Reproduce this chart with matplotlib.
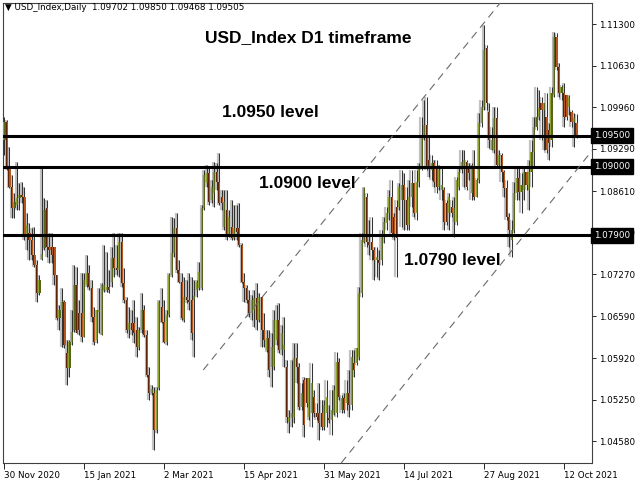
import numpy as np
import matplotlib
matplotlib.use('Agg')
import matplotlib.pyplot as plt

# daily OHLC (30 Nov 2020 .. mid Oct 2021)
opens = [
    1.0943, 1.0973, 1.0898, 1.0868, 1.0834, 1.0838, 1.0850, 1.0855, 1.0851, 1.0787,
    1.0793, 1.0782, 1.0758, 1.0742, 1.0697, 1.0751, 1.0769, 1.0834, 1.0771, 1.0771,
    1.0771, 1.0726, 1.0656, 1.0669, 1.0682, 1.0600, 1.0576, 1.0618, 1.0637, 1.0709,
    1.0665, 1.0665, 1.0626, 1.0709, 1.0729, 1.0705, 1.0658, 1.0621, 1.0666, 1.0629,
    1.0701, 1.0701, 1.0706, 1.0714, 1.0753, 1.0737, 1.0734, 1.0779, 1.0713, 1.0685,
    1.0637, 1.0648, 1.0648, 1.0637, 1.0610, 1.0637, 1.0669, 1.0629, 1.0565, 1.0536,
    1.0536, 1.0476, 1.0544, 1.0674, 1.0650, 1.0618, 1.0661, 1.0726, 1.0761, 1.0801,
    1.0734, 1.0714, 1.0653, 1.0690, 1.0685, 1.0685, 1.0685, 1.0701, 1.0705, 1.0705,
    1.0834, 1.0874, 1.0890, 1.0847, 1.0858, 1.0892, 1.0876, 1.0851, 1.0803, 1.0830,
    1.0790, 1.0803, 1.0785, 1.0801, 1.0801, 1.0774, 1.0714, 1.0705, 1.0685, 1.0665,
    1.0669, 1.0689, 1.0653, 1.0690, 1.0637, 1.0605, 1.0624, 1.0577, 1.0577, 1.0621,
    1.0653, 1.0605, 1.0605, 1.0577, 1.0489, 1.0495, 1.0497, 1.0592, 1.0577, 1.0513,
    1.0556, 1.0560, 1.0497, 1.0503, 1.0529, 1.0503, 1.0503, 1.0503, 1.0481, 1.0503,
    1.0495, 1.0492, 1.0503, 1.0503, 1.0585, 1.0508, 1.0527, 1.0519, 1.0536, 1.0516,
    1.0584, 1.0584, 1.0594, 1.0697, 1.0779, 1.0851, 1.0779, 1.0779, 1.0766, 1.0750,
    1.0750, 1.0750, 1.0790, 1.0809, 1.0826, 1.0851, 1.0819, 1.0835, 1.0835, 1.0847,
    1.0871, 1.0847, 1.0806, 1.0851, 1.0874, 1.0826, 1.0876, 1.0900, 1.0948, 1.0968,
    1.0911, 1.0895, 1.0906, 1.0900, 1.0868, 1.0863, 1.0863, 1.0842, 1.0826, 1.0835,
    1.0811, 1.0811, 1.0868, 1.0895, 1.0900, 1.0908, 1.0900, 1.0858, 1.0900, 1.0851,
    1.0879, 1.0971, 1.0997, 1.1092, 1.0989, 1.0927, 1.0927, 1.0979, 1.0903, 1.0919,
    1.0892, 1.0866, 1.0819, 1.0782, 1.0798, 1.0858, 1.0882, 1.0860, 1.0863, 1.0892,
    1.0863, 1.0892, 1.0924, 1.0964, 1.0981, 1.1003, 1.0992, 1.0981, 1.0959, 1.0943,
    1.1016, 1.1109, 1.1061, 1.1019, 1.1019, 1.1016, 1.0997, 1.0989, 1.0973, 1.09702,
]
highs = [
    1.0981, 1.0976, 1.0932, 1.0887, 1.0858, 1.0908, 1.0874, 1.0876, 1.0868, 1.0826,
    1.0809, 1.0801, 1.0803, 1.0750, 1.0726, 1.0898, 1.0850, 1.0847, 1.0793, 1.0793,
    1.0771, 1.0726, 1.0677, 1.0705, 1.0685, 1.0621, 1.0621, 1.0669, 1.0742, 1.0739,
    1.0685, 1.0729, 1.0729, 1.0758, 1.0742, 1.0718, 1.0674, 1.0669, 1.0705, 1.0713,
    1.0774, 1.0763, 1.0734, 1.0771, 1.0793, 1.0774, 1.0793, 1.0793, 1.0737, 1.0690,
    1.0674, 1.0669, 1.0685, 1.0658, 1.0642, 1.0697, 1.0677, 1.0637, 1.0577, 1.0548,
    1.0545, 1.0545, 1.0685, 1.0705, 1.0685, 1.0669, 1.0729, 1.0819, 1.0818, 1.0826,
    1.0750, 1.0729, 1.0722, 1.0718, 1.0729, 1.0722, 1.0718, 1.0718, 1.0747, 1.0838,
    1.0895, 1.0903, 1.0900, 1.0879, 1.0908, 1.0906, 1.0922, 1.0863, 1.0863, 1.0863,
    1.0830, 1.0847, 1.0838, 1.0838, 1.0842, 1.0777, 1.0729, 1.0709, 1.0701, 1.0693,
    1.0701, 1.0713, 1.0697, 1.0690, 1.0665, 1.0637, 1.0637, 1.0632, 1.0669, 1.0677,
    1.0681, 1.0645, 1.0658, 1.0589, 1.0508, 1.0589, 1.0616, 1.0616, 1.0584, 1.0552,
    1.0561, 1.0560, 1.0560, 1.0584, 1.0540, 1.0519, 1.0552, 1.0524, 1.0524, 1.0556,
    1.0516, 1.0540, 1.0548, 1.0602, 1.0592, 1.0532, 1.0536, 1.0556, 1.0573, 1.0605,
    1.0605, 1.0608, 1.0706, 1.0793, 1.0868, 1.0858, 1.0814, 1.0819, 1.0771, 1.0771,
    1.0766, 1.0798, 1.0819, 1.0835, 1.0863, 1.0879, 1.0826, 1.0847, 1.0874, 1.0895,
    1.0890, 1.0868, 1.0879, 1.0895, 1.0874, 1.0895, 1.0906, 1.0981, 1.1008, 1.1013,
    1.0948, 1.0919, 1.0911, 1.0911, 1.0903, 1.0900, 1.0868, 1.0847, 1.0858, 1.0847,
    1.0851, 1.0884, 1.0900, 1.0927, 1.0927, 1.0911, 1.0906, 1.0906, 1.0927, 1.0882,
    1.0987, 1.1008, 1.1129, 1.1096, 1.1003, 1.0964, 1.0997, 1.0997, 1.0927, 1.0922,
    1.0895, 1.0879, 1.0826, 1.0814, 1.0876, 1.0900, 1.0900, 1.0890, 1.0900, 1.0892,
    1.0911, 1.0943, 1.0981, 1.1029, 1.1024, 1.1013, 1.1003, 1.1019, 1.0971, 1.1029,
    1.1117, 1.1116, 1.1067, 1.1032, 1.1035, 1.1016, 1.1016, 1.0992, 1.0987, 1.09850,
]
lows = [
    1.0919, 1.0895, 1.0866, 1.0818, 1.0818, 1.0830, 1.0830, 1.0842, 1.0782, 1.0766,
    1.0750, 1.0750, 1.0739, 1.0682, 1.0693, 1.0750, 1.0766, 1.0755, 1.0745, 1.0745,
    1.0709, 1.0653, 1.0637, 1.0610, 1.0608, 1.0548, 1.0561, 1.0613, 1.0634, 1.0632,
    1.0629, 1.0618, 1.0626, 1.0706, 1.0701, 1.0650, 1.0613, 1.0616, 1.0632, 1.0629,
    1.0698, 1.0698, 1.0697, 1.0706, 1.0722, 1.0726, 1.0722, 1.0706, 1.0681, 1.0632,
    1.0624, 1.0629, 1.0616, 1.0594, 1.0605, 1.0632, 1.0626, 1.0561, 1.0524, 1.0532,
    1.0444, 1.0471, 1.0540, 1.0648, 1.0616, 1.0613, 1.0658, 1.0722, 1.0755, 1.0729,
    1.0713, 1.0653, 1.0650, 1.0681, 1.0669, 1.0621, 1.0594, 1.0690, 1.0701, 1.0701,
    1.0830, 1.0868, 1.0838, 1.0842, 1.0835, 1.0863, 1.0838, 1.0830, 1.0798, 1.0782,
    1.0787, 1.0782, 1.0782, 1.0782, 1.0771, 1.0713, 1.0682, 1.0681, 1.0658, 1.0653,
    1.0642, 1.0637, 1.0650, 1.0610, 1.0610, 1.0602, 1.0561, 1.0545, 1.0573, 1.0613,
    1.0600, 1.0597, 1.0577, 1.0487, 1.0471, 1.0481, 1.0487, 1.0552, 1.0508, 1.0508,
    1.0465, 1.0513, 1.0492, 1.0481, 1.0497, 1.0492, 1.0460, 1.0476, 1.0476, 1.0481,
    1.0487, 1.0468, 1.0500, 1.0497, 1.0524, 1.0503, 1.0503, 1.0508, 1.0497, 1.0508,
    1.0561, 1.0581, 1.0589, 1.0690, 1.0777, 1.0771, 1.0758, 1.0750, 1.0718, 1.0722,
    1.0718, 1.0742, 1.0777, 1.0798, 1.0814, 1.0787, 1.0782, 1.0722, 1.0830, 1.0803,
    1.0798, 1.0798, 1.0798, 1.0835, 1.0819, 1.0814, 1.0868, 1.0895, 1.0943, 1.0895,
    1.0884, 1.0879, 1.0868, 1.0858, 1.0863, 1.0847, 1.0798, 1.0806, 1.0798, 1.0819,
    1.0787, 1.0806, 1.0863, 1.0890, 1.0868, 1.0863, 1.0879, 1.0847, 1.0847, 1.0851,
    1.0874, 1.0964, 1.0992, 1.0992, 1.0930, 1.0927, 1.0922, 1.0900, 1.0900, 1.0876,
    1.0851, 1.0814, 1.0771, 1.0755, 1.0793, 1.0847, 1.0847, 1.0826, 1.0847, 1.0863,
    1.0830, 1.0868, 1.0900, 1.0959, 1.0976, 1.0943, 1.0927, 1.0922, 1.0911, 1.0932,
    1.1013, 1.1056, 1.1013, 1.1008, 1.0964, 1.0976, 1.0984, 1.0964, 1.0932, 1.09468,
]
closes = [
    1.0973, 1.0898, 1.0868, 1.0834, 1.0843, 1.0850, 1.0855, 1.0851, 1.0787, 1.0806,
    1.0782, 1.0758, 1.0742, 1.0697, 1.0718, 1.0760, 1.0830, 1.0771, 1.0766, 1.0758,
    1.0726, 1.0656, 1.0669, 1.0682, 1.0613, 1.0576, 1.0618, 1.0634, 1.0709, 1.0632,
    1.0637, 1.0626, 1.0718, 1.0729, 1.0706, 1.0658, 1.0618, 1.0669, 1.0669, 1.0709,
    1.0709, 1.0706, 1.0701, 1.0753, 1.0737, 1.0734, 1.0779, 1.0713, 1.0685, 1.0637,
    1.0648, 1.0637, 1.0632, 1.0610, 1.0637, 1.0669, 1.0629, 1.0565, 1.0536, 1.0542,
    1.0476, 1.0540, 1.0682, 1.0650, 1.0618, 1.0661, 1.0726, 1.0761, 1.0801, 1.0734,
    1.0714, 1.0656, 1.0690, 1.0685, 1.0682, 1.0632, 1.0692, 1.0714, 1.0731, 1.0834,
    1.0887, 1.0890, 1.0843, 1.0868, 1.0892, 1.0876, 1.0842, 1.0842, 1.0843, 1.0787,
    1.0819, 1.0785, 1.0801, 1.0795, 1.0774, 1.0714, 1.0705, 1.0685, 1.0665, 1.0685,
    1.0689, 1.0653, 1.0690, 1.0637, 1.0621, 1.0624, 1.0573, 1.0610, 1.0653, 1.0653,
    1.0605, 1.0632, 1.0613, 1.0497, 1.0497, 1.0503, 1.0592, 1.0577, 1.0513, 1.0536,
    1.0484, 1.0519, 1.0560, 1.0552, 1.0503, 1.0497, 1.0487, 1.0481, 1.0516, 1.0529,
    1.0492, 1.0508, 1.0540, 1.0585, 1.0529, 1.0527, 1.0508, 1.0536, 1.0516, 1.0594,
    1.0573, 1.0608, 1.0697, 1.0782, 1.0866, 1.0779, 1.0774, 1.0766, 1.0750, 1.0755,
    1.0745, 1.0790, 1.0811, 1.0826, 1.0851, 1.0793, 1.0787, 1.0785, 1.0868, 1.0871,
    1.0847, 1.0806, 1.0851, 1.0874, 1.0826, 1.0876, 1.0900, 1.0948, 1.0968, 1.0900,
    1.0900, 1.0906, 1.0876, 1.0868, 1.0895, 1.0871, 1.0811, 1.0811, 1.0851, 1.0826,
    1.0834, 1.0879, 1.0892, 1.0908, 1.0911, 1.0868, 1.0890, 1.0903, 1.0851, 1.0879,
    1.0971, 1.0997, 1.1088, 1.1003, 1.0943, 1.0943, 1.0979, 1.0903, 1.0919, 1.0892,
    1.0866, 1.0819, 1.0798, 1.0798, 1.0858, 1.0882, 1.0860, 1.0871, 1.0892, 1.0871,
    1.0892, 1.0924, 1.0964, 1.0981, 1.0995, 1.0992, 1.1003, 1.0927, 1.0938, 1.1019,
    1.1109, 1.1061, 1.1019, 1.1029, 1.0981, 1.0981, 1.1013, 1.0973, 1.0979, 1.09505,
]

tick_bars = [0, 32, 64, 96, 128, 160, 192, 224]
tick_dates = ['30 Nov 2020', '15 Jan 2021', '2 Mar 2021', '15 Apr 2021',
              '31 May 2021', '14 Jul 2021', '27 Aug 2021', '12 Oct 2021']
price_ticks = [1.1130, 1.1063, 1.0996, 1.0929, 1.0861, 1.0794,
               1.0727, 1.0659, 1.0592, 1.0525, 1.0458]

levels = [1.0950, 1.0900, 1.0790]
level_names = ['1.0950 level', '1.0900 level', '1.0790 level']
level_name_at = [(87, 1.0988), (102, 1.0874), (160, 1.0750)]

# channel lines, two anchor points each (bar, price)
chan_up = ([79.6, 198.4], [1.0573, 1.1164])
chan_lo = ([134.8, 235.2], [1.0423, 1.0926])

o = np.array(opens); h = np.array(highs); l = np.array(lows); c = np.array(closes)
x = np.arange(len(o))
bull = c >= o

fig = plt.figure(figsize=(6.4, 4.8), dpi=100)
ax = fig.add_axes([3/640, 17/480, 589/640, 460/480])

# candles: grey shadow, wick, two-tone body
lo_b = np.minimum(o, c)
body = np.maximum(np.abs(c - o), 0.00008)
ax.vlines(x - 0.5, l, h, color='#c2c2c2', lw=1.6, zorder=1)
ax.bar(x - 0.5, body, bottom=lo_b, width=0.5, lw=0, color='#b4b4b4', zorder=1)
ax.vlines(x, l, h, color='#333333', lw=0.75, zorder=2)
ax.bar(x - 0.2, body, bottom=lo_b, width=0.45, lw=0,
       color=np.where(bull, '#8fa233', '#5e2409'), zorder=3)
ax.bar(x + 0.2, body, bottom=lo_b, width=0.45, lw=0,
       color=np.where(bull, '#55661a', '#b5561f'), zorder=3)

for lv in levels:
    ax.axhline(lv, color='black', lw=2.2, zorder=4)
    ax.annotate('%.5f' % lv, xy=(1, lv), xycoords=ax.get_yaxis_transform(),
                xytext=(1.5, 0), textcoords='offset points', ha='left', va='center',
                color='white', fontsize=6.3, annotation_clip=False, zorder=10,
                bbox=dict(boxstyle='square,pad=0.35', fc='black', ec='black'))

for xs, ys in (chan_up, chan_lo):
    ax.plot(xs, ys, color='#6a6a6a', lw=0.8, ls=(0, (7, 5)), zorder=4)

bold = dict(fontsize=12.5, fontweight='bold', family=['Liberation Sans', 'DejaVu Sans'],
            ha='left', va='center', zorder=6)
ax.text(80.4, 1.1108, 'USD_Index D1 timeframe', **bold)
for name, (bx, by) in zip(level_names, level_name_at):
    ax.text(bx, by, name, **bold)

ax.set_xlim(-0.6, 235.2)
ax.set_ylim(1.0423, 1.1164)

ax.yaxis.tick_right()
ax.set_yticks(price_ticks)
ax.set_yticklabels(['%.5f' % p for p in price_ticks])
ax.tick_params(axis='y', length=3, width=0.6, pad=2, labelsize=6.3, direction='out')
ax.set_xticks(tick_bars)
ax.set_xticklabels(tick_dates, ha='left')
ax.tick_params(axis='x', length=4, width=0.6, pad=1.5, labelsize=6.3, direction='out')
for s in ax.spines.values():
    s.set_color('#404040')
    s.set_linewidth(0.8)

fig.text(5/640, 1 - 8/480,
         '\u25bc USD_Index,Daily  %.5f %.5f %.5f %.5f' % (opens[-1], highs[-1], lows[-1], closes[-1]),
         fontsize=6.3, va='center', ha='left')

fig.savefig('out.png', dpi=100)
